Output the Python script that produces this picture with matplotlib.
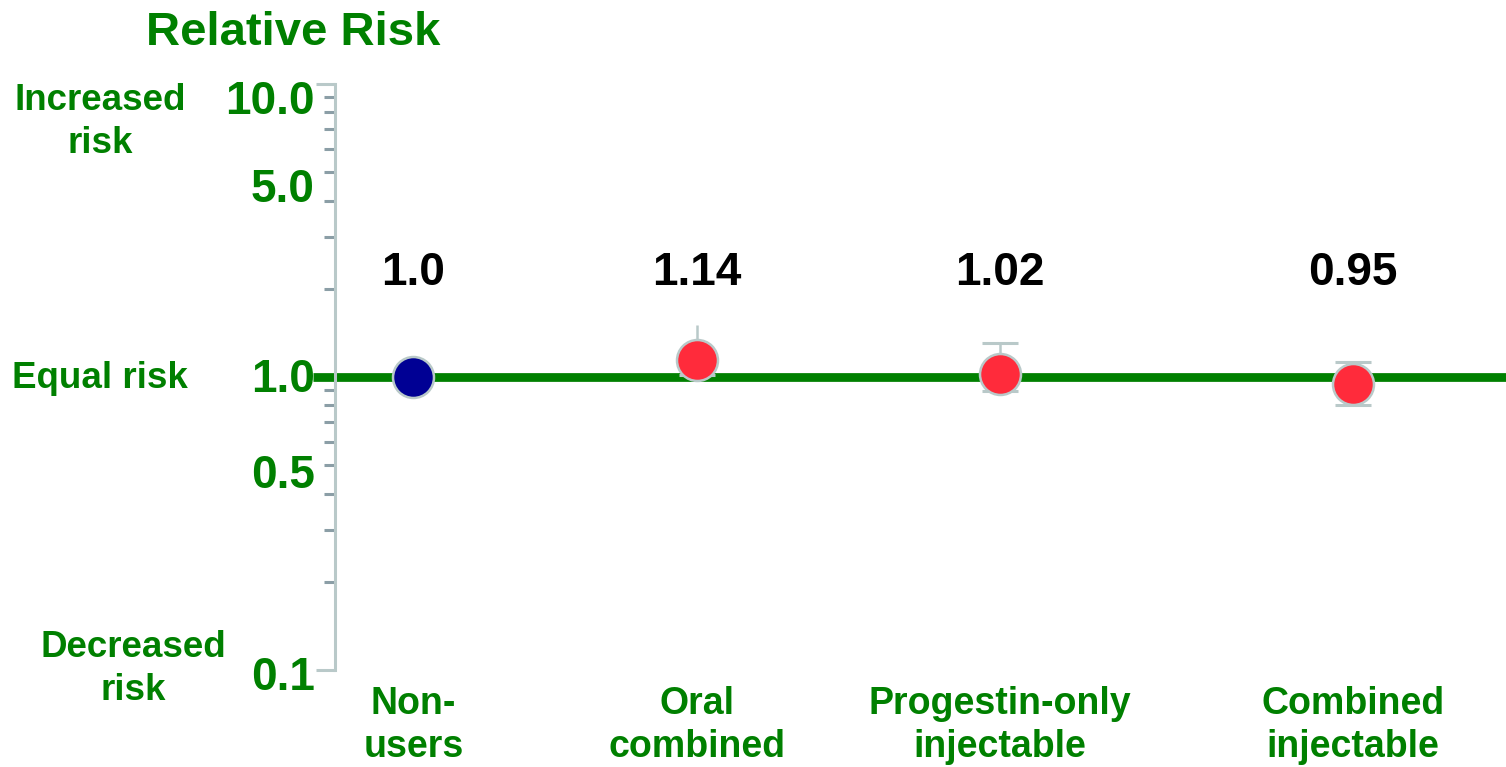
import matplotlib
matplotlib.use("Agg")
import matplotlib.pyplot as plt
from matplotlib.ticker import FixedLocator, NullFormatter

# ---- data ----
categories = ["Non-\nusers", "Oral\ncombined", "Progestin-only\ninjectable", "Combined\ninjectable"]
relative_risk = [1.0, 1.14, 1.02, 0.95]
value_labels = ["1.0", "1.14", "1.02", "0.95"]
ci_low = [None, 1.016, 0.898, 0.802]
ci_high = [None, 1.50, 1.31, 1.128]
upper_cap_shown = [False, False, True, True]
axis_values = [10.0, 5.0, 1.0, 0.5, 0.1]
axis_labels = ["10.0", "5.0", "1.0", "0.5", "0.1"]

# ---- layout / style ----
x_pos = [0.067, 0.309, 0.568, 0.869]
label_nudge_pt = [-13, -13, -2, -8, -6]
GREEN = "#008000"
SPINE = "#b9c9c9"
TICK = "#8b9ea6"
RED = "#ff2b3b"
NAVY = "#000094"
plt.rcParams["font.family"] = ["Liberation Sans", "DejaVu Sans"]
plt.rcParams["font.weight"] = "bold"

fig = plt.figure(figsize=(15.06, 7.67), dpi=100)
ax = fig.add_axes([335 / 1506, 97 / 767, 1171 / 1506, 586 / 767])
ax.set_yscale("log")
ax.set_ylim(0.1, 10)
ax.set_xlim(0, 1)

for side in ("top", "right", "bottom"):
    ax.spines[side].set_visible(False)
ax.spines["left"].set_color(SPINE)
ax.spines["left"].set_linewidth(2.2)
ax.set_xticks([])

# end caps at 0.1 and 10, minor ticks in between
ax.yaxis.set_major_locator(FixedLocator([0.1, 10]))
ax.yaxis.set_major_formatter(NullFormatter())
minor = [m * 10.0 ** e for e in (-1, 0) for m in range(2, 10)]
ax.yaxis.set_minor_locator(FixedLocator(minor))
ax.yaxis.set_minor_formatter(NullFormatter())
ax.tick_params(axis="y", which="major", length=14, width=2.2, color=SPINE)
ax.tick_params(axis="y", which="minor", length=8, width=2.2, color=TICK)

# axis value labels
for v, lab, dy in zip(axis_values, axis_labels, label_nudge_pt):
    ax.annotate(lab, xy=(0, v), xycoords=("axes fraction", "data"),
                xytext=(-14.5, dy), textcoords="offset points",
                ha="right", va="center", fontsize=33, fontweight="bold",
                color=GREEN, annotation_clip=False)

# reference line at relative risk = 1
ax.plot([-22 / 1171, 1.0], [1.0, 1.0], transform=ax.get_yaxis_transform(),
        color=GREEN, lw=6.3, solid_capstyle="butt", clip_on=False, zorder=2)

# confidence intervals
for x, lo, hi, top in zip(x_pos, ci_low, ci_high, upper_cap_shown):
    if lo is None:
        continue
    ax.vlines(x, lo, hi, color=SPINE, lw=1.8, zorder=3)
    ax.plot([x], [lo], marker="_", ms=26, mew=2.2, color=SPINE, zorder=3)
    if top:
        ax.plot([x], [hi], marker="_", ms=26, mew=2.2, color=SPINE, zorder=3)

# point estimates
colors = [NAVY, RED, RED, RED]
for x, rr, c in zip(x_pos, relative_risk, colors):
    ax.plot([x], [rr], marker="o", ms=29.5, mfc=c, mec=SPINE, mew=1.8,
            zorder=4, clip_on=False)

# value labels above points
lab_tr = ax.get_xaxis_transform()
for x, txt in zip(x_pos, value_labels):
    ax.text(x, 0.677, txt, transform=lab_tr, ha="center", va="center",
            fontsize=33, fontweight="bold", color="black")

# category labels below the axis
for x, cat in zip(x_pos, categories):
    ax.text(x, -0.028, cat, transform=lab_tr, ha="center", va="top",
            fontsize=27, fontweight="bold", color=GREEN, linespacing=1.25)

# titles and side annotations
fig.text(146 / 1506, 1 - 33 / 767, "Relative Risk", ha="left", va="center",
         fontsize=34, fontweight="bold", color=GREEN)
fig.text(100 / 1506, 1 - 122 / 767, "Increased\nrisk", ha="center", va="center",
         fontsize=26.5, fontweight="bold", color=GREEN, linespacing=1.28)
fig.text(100 / 1506, 1 - 379 / 767, "Equal risk", ha="center", va="center",
         fontsize=26.5, fontweight="bold", color=GREEN)
fig.text(133 / 1506, 1 - 669 / 767, "Decreased\nrisk", ha="center", va="center",
         fontsize=26.5, fontweight="bold", color=GREEN, linespacing=1.28)

fig.savefig("out.png", dpi=100, facecolor="white")
